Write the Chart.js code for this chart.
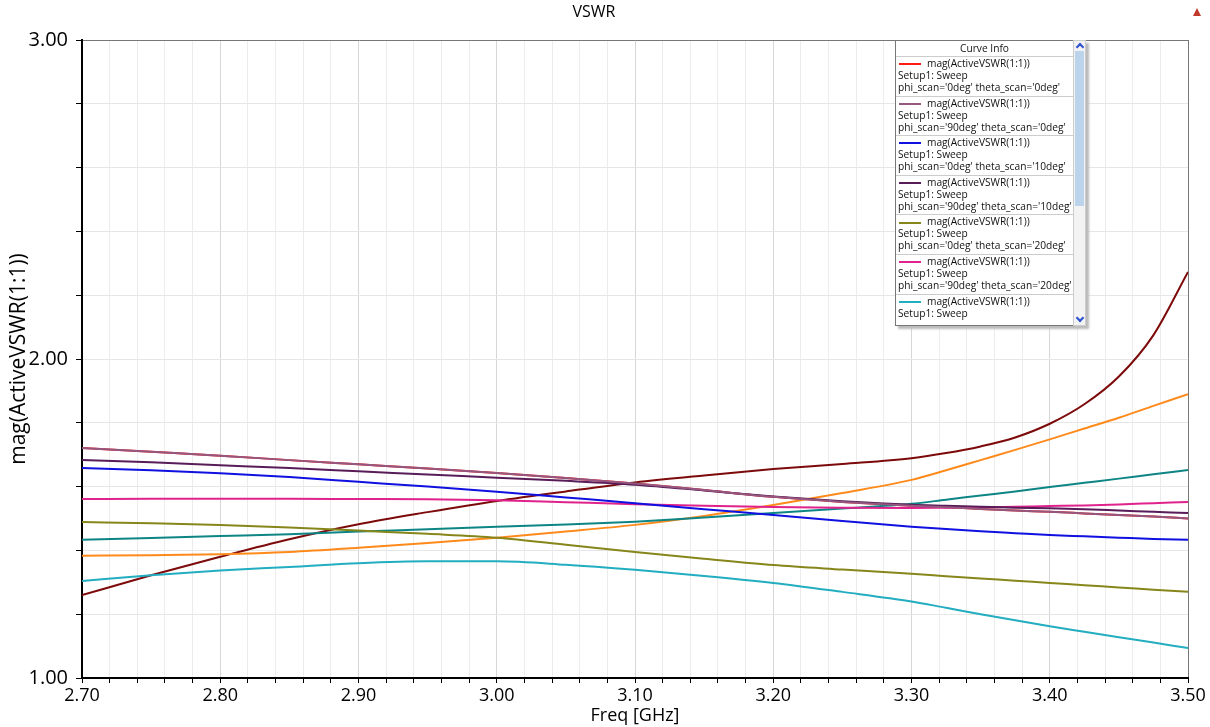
<!DOCTYPE html>
<html>
<head>
<meta charset="utf-8">
<title>VSWR</title>
<script src="https://cdn.jsdelivr.net/npm/chart.js@4/dist/chart.umd.min.js"></script>
<style>
  body { margin: 0; background: #fff; }
  #wrap { position: relative; width: 1210px; height: 727px; }
  #curveInfo {
    position: absolute; left: 895px; top: 40px; width: 177px; height: 284px;
    border: 1px solid #777; background: #fff; box-shadow: 3px 3px 2px #bbb;
    font-family: "Open Sans", sans-serif; font-size: 10.2px; color: #111; overflow: hidden;
  }
  #curveInfo .head { height: 16px; line-height: 15px; text-align: center; border-bottom: 1px solid #ccc; box-sizing: border-box; }
  #curveInfo .entry { height: 39.6px; border-bottom: 1px solid #ccc; padding: 0 0 0 2px; box-sizing: border-box; line-height: 12px; white-space: nowrap; }
  #curveInfo .swatch { display: inline-block; width: 22px; height: 2px; vertical-align: middle; margin: 0 6px 0 1px; }
  #curveInfo .cover { position: absolute; left: 0; right: 0; bottom: 0; height: 4px; background: #fff; }
  #scroll { position: absolute; left: 1073px; top: 40px; width: 11px; height: 284px; background: #f3f3f3; border: 1px solid #ccc; box-shadow: 3px 3px 2px #bbb; }
  #thumb { position: absolute; left: 1px; top: 10px; width: 9px; height: 155px; background: #bcd3ec; }
  .arrow { position: absolute; left: 3px; width: 4px; height: 4px; border-left: 2px solid #2a4fd0; border-top: 2px solid #2a4fd0; }
  #logo { position: absolute; left: 1193px; top: 8px; width: 0; height: 0; border-left: 4px solid transparent; border-right: 4px solid transparent; border-bottom: 8px solid #c0392b; }
</style>
</head>
<body>
<div id="wrap">
  <canvas id="grafico" width="1210" height="727"></canvas>
  <div id="curveInfo"><div class="head">Curve Info</div></div>
  <div id="scroll">
    <div class="arrow" style="top:3px; transform:rotate(45deg);"></div>
    <div id="thumb"></div>
    <div class="arrow" style="bottom:4px; transform:rotate(225deg);"></div>
  </div>
  <div id="logo"></div>
</div>
<script>
// frequências (GHz)
const freqGHz = [2.70, 2.75, 2.80, 2.85, 2.90, 2.95, 3.00, 3.05, 3.10, 3.15, 3.20, 3.25, 3.30, 3.325, 3.35, 3.375, 3.40, 3.425, 3.45, 3.475, 3.50];

// mag(ActiveVSWR(1:1)) por varredura
const vswrP0T0   = [1.721, 1.709, 1.697, 1.683, 1.670, 1.657, 1.643, 1.627, 1.610, 1.589, 1.568, 1.552, 1.540, 1.535, 1.530, 1.525, 1.521, 1.516, 1.511, 1.506, 1.500];
const vswrP90T0  = [1.721, 1.709, 1.697, 1.683, 1.670, 1.657, 1.643, 1.627, 1.610, 1.589, 1.568, 1.552, 1.540, 1.535, 1.530, 1.525, 1.521, 1.516, 1.511, 1.506, 1.500];
const vswrP0T10  = [1.658, 1.651, 1.642, 1.630, 1.615, 1.600, 1.584, 1.566, 1.548, 1.529, 1.511, 1.492, 1.474, 1.467, 1.460, 1.454, 1.448, 1.444, 1.440, 1.436, 1.433];
const vswrP90T10 = [1.683, 1.676, 1.667, 1.658, 1.648, 1.638, 1.628, 1.618, 1.606, 1.588, 1.569, 1.554, 1.543, 1.540, 1.537, 1.534, 1.532, 1.529, 1.525, 1.521, 1.517];
const vswrP0T20  = [1.489, 1.485, 1.480, 1.472, 1.462, 1.452, 1.440, 1.418, 1.395, 1.374, 1.354, 1.340, 1.327, 1.319, 1.312, 1.305, 1.298, 1.291, 1.284, 1.277, 1.270];
const vswrP90T20 = [1.561, 1.562, 1.562, 1.562, 1.561, 1.560, 1.557, 1.551, 1.545, 1.540, 1.536, 1.534, 1.533, 1.534, 1.535, 1.537, 1.539, 1.541, 1.544, 1.548, 1.552];
const vswrP0T30  = [1.304, 1.322, 1.337, 1.348, 1.360, 1.366, 1.366, 1.355, 1.339, 1.320, 1.298, 1.270, 1.240, 1.220, 1.200, 1.181, 1.162, 1.145, 1.128, 1.111, 1.094];
const vswrP90T30 = [1.433, 1.439, 1.445, 1.451, 1.459, 1.466, 1.474, 1.481, 1.490, 1.503, 1.517, 1.531, 1.546, 1.559, 1.572, 1.585, 1.599, 1.612, 1.625, 1.639, 1.652];
const vswrP0T40  = [1.383, 1.385, 1.388, 1.395, 1.408, 1.423, 1.440, 1.459, 1.480, 1.508, 1.542, 1.580, 1.621, 1.651, 1.683, 1.715, 1.748, 1.782, 1.816, 1.853, 1.890];
const vswrP90T40 = [1.260, 1.322, 1.380, 1.435, 1.482, 1.520, 1.555, 1.585, 1.613, 1.635, 1.655, 1.671, 1.689, 1.705, 1.726, 1.754, 1.797, 1.858, 1.945, 2.075, 2.273];

const scanLabels = [
  "phi_scan='0deg' theta_scan='0deg'",
  "phi_scan='90deg' theta_scan='0deg'",
  "phi_scan='0deg' theta_scan='10deg'",
  "phi_scan='90deg' theta_scan='10deg'",
  "phi_scan='0deg' theta_scan='20deg'",
  "phi_scan='90deg' theta_scan='20deg'",
  "phi_scan='0deg' theta_scan='30deg'",
  "phi_scan='90deg' theta_scan='30deg'",
  "phi_scan='0deg' theta_scan='40deg'",
  "phi_scan='90deg' theta_scan='40deg'"
];
const seriesValues = [vswrP0T0, vswrP90T0, vswrP0T10, vswrP90T10, vswrP0T20, vswrP90T20, vswrP0T30, vswrP90T30, vswrP0T40, vswrP90T40];
const seriesColors = [
  "#ff1a1a", // vermelho
  "#94577f", // malva
  "#1010e0", // azul
  "#581c58", // roxo escuro
  "#86861a", // oliva
  "#e0228c", // magenta
  "#22adc0", // ciano
  "#0e8585", // verde-azulado
  "#ff8a1c", // laranja
  "#7d0a0a"  // bordô
];

const isMajor = v => Math.abs(v * 10 - Math.round(v * 10)) < 1e-6;

const datasets = seriesValues.map((vals, i) => ({
  label: scanLabels[i],
  data: freqGHz.map((f, k) => ({ x: f, y: vals[k] })),
  borderColor: seriesColors[i],
  borderWidth: 2,
  pointRadius: 0,
  fill: false,
  cubicInterpolationMode: "monotone",
  order: i === 0 ? 10 : 0
}));

new Chart(document.getElementById("grafico").getContext("2d"), {
  type: "line",
  data: { datasets },
  options: {
    responsive: false,
    animation: false,
    layout: { padding: { right: 22 } },
    plugins: {
      legend: { display: false },
      tooltip: { enabled: false },
      title: {
        display: true,
        text: "VSWR",
        color: "#000",
        font: { family: "Open Sans", size: 16, weight: "normal" },
        padding: { top: 3, bottom: 17.8 }
      }
    },
    scales: {
      x: {
        type: "linear",
        min: 2.7,
        max: 3.5,
        afterFit: s => { s.height = 49; },
        ticks: {
          stepSize: 0.02,
          autoSkip: false,
          maxRotation: 0,
          padding: 2,
          color: "#000",
          font: { family: "Open Sans", size: 18 },
          callback: v => isMajor(v) ? v.toFixed(2) : ""
        },
        grid: {
          tickLength: 5,
          tickColor: "#000",
          color: ctx => {
            const v = ctx.tick ? ctx.tick.value : 0;
            if (Math.abs(v - 3.5) < 1e-6) return "#777";
            return isMajor(v) ? "#d6d6d6" : "#ececec";
          }
        },
        border: { color: "#000", width: 2 },
        title: {
          display: true,
          text: "Freq [GHz]",
          color: "#000",
          font: { family: "Open Sans", size: 18 },
          padding: { top: 0, bottom: 0 }
        }
      },
      y: {
        min: 1,
        max: 3,
        afterFit: s => { s.width = 82; },
        ticks: {
          stepSize: 0.2,
          padding: 8,
          color: "#000",
          font: { family: "Open Sans", size: 20 },
          callback: v => Math.abs(v - Math.round(v)) < 1e-6 ? v.toFixed(2) : ""
        },
        grid: {
          tickLength: 6,
          tickColor: "#000",
          color: ctx => {
            const v = ctx.tick ? ctx.tick.value : 0;
            return Math.abs(v - 3) < 1e-6 ? "#777" : "#e6e6e6";
          }
        },
        border: { color: "#000", width: 2 },
        title: {
          display: true,
          text: "mag(ActiveVSWR(1:1))",
          color: "#000",
          font: { family: "Open Sans", size: 21 },
          padding: { top: 6, bottom: 0 }
        }
      }
    }
  }
});

// ---------- Curve Info ----------
const caixa = document.getElementById("curveInfo");
scanLabels.slice(0, 7).forEach((lab, i) => {
  const d = document.createElement("div");
  d.className = "entry";
  d.innerHTML = '<span class="swatch" style="background:' + seriesColors[i] + '"></span>mag(ActiveVSWR(1:1))<br>Setup1: Sweep<br>' + lab;
  caixa.appendChild(d);
});
const tampa = document.createElement("div");
tampa.className = "cover";
caixa.appendChild(tampa);
</script>
</body>
</html>
